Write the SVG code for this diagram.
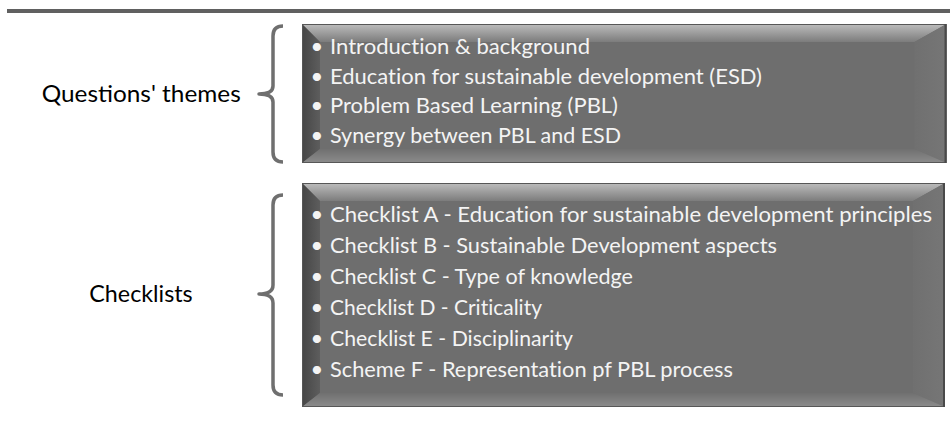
<svg xmlns="http://www.w3.org/2000/svg" width="950" height="422" viewBox="0 0 950 422">
  <defs>
    <linearGradient id="gTop" x1="0" y1="0" x2="0" y2="1">
      <stop offset="0" stop-color="#bdbdbd"/>
      <stop offset="1" stop-color="#7c7c7c"/>
    </linearGradient>
    <linearGradient id="gLeft" x1="0" y1="0" x2="1" y2="0">
      <stop offset="0" stop-color="#464646"/>
      <stop offset="1" stop-color="#5d5d5d"/>
    </linearGradient>
    <linearGradient id="gRight" x1="0" y1="0" x2="1" y2="0">
      <stop offset="0" stop-color="#707070"/>
      <stop offset="1" stop-color="#767676"/>
    </linearGradient>
    <linearGradient id="gBottom" x1="0" y1="0" x2="0" y2="1">
      <stop offset="0" stop-color="#707070"/>
      <stop offset="1" stop-color="#8c8c8c"/>
    </linearGradient>
  </defs>
  <style>
    .label { font-family: "Lato", "Open Sans", "Liberation Sans", sans-serif; font-size: 23.5px; fill: #000000; }
    .item { font-family: "Lato", "Open Sans", "Liberation Sans", sans-serif; font-size: 20.5px; fill: #f4f4f4; font-variant-ligatures: none; }
    .bul { font-size: 22px; }
    .face { fill: #6e6e6e; }
    .top { fill: url(#gTop); }
    .left { fill: url(#gLeft); }
    .right { fill: url(#gRight); }
    .bottom { fill: url(#gBottom); }
    .edge { fill: none; stroke: #575757; stroke-width: 1; }
    .brace { fill: none; stroke: #6f6f6f; stroke-width: 3.5; stroke-linecap: butt; stroke-linejoin: round; }
  </style>

  <rect id="top-rule" x="7" y="9" width="943" height="4" fill="#606060"/>

  <g id="label-themes">
    <text class="label" x="41.7" y="102" textLength="199" lengthAdjust="spacingAndGlyphs">Questions' themes</text>
  </g>

  <g id="label-checklists">
    <text class="label" x="89.3" y="302" textLength="103.4" lengthAdjust="spacingAndGlyphs">Checklists</text>
  </g>

  <g id="box-themes">
    <rect class="face" x="302" y="24" width="644.5" height="139"/>
    <polygon class="top" points="302,24 946.5,24 914.5,42 320,42"/>
    <polygon class="left" points="302,24 320,42 320,149 302,163"/>
    <polygon class="right" points="946.5,24 946.5,163 914.5,149 914.5,42"/>
    <polygon class="bottom" points="302,163 320,149 914.5,149 946.5,163"/>
    <rect class="edge" x="302.5" y="24.5" width="643.5" height="138"/>
    <line x1="945.5" y1="24" x2="945.5" y2="163" stroke="#4a4a4a" stroke-width="2"/>
    <text class="item" y="54"><tspan class="bul" x="310.5">•</tspan> <tspan x="330" textLength="260" lengthAdjust="spacingAndGlyphs">Introduction &amp; background</tspan></text>
    <text class="item" y="83.5"><tspan class="bul" x="310.5">•</tspan> <tspan x="330" textLength="432" lengthAdjust="spacingAndGlyphs">Education for sustainable development (ESD)</tspan></text>
    <text class="item" y="113"><tspan class="bul" x="310.5">•</tspan> <tspan x="330" textLength="288" lengthAdjust="spacingAndGlyphs">Problem Based Learning (PBL)</tspan></text>
    <text class="item" y="142.5"><tspan class="bul" x="310.5">•</tspan> <tspan x="330" textLength="291" lengthAdjust="spacingAndGlyphs">Synergy between PBL and ESD</tspan></text>
  </g>

  <g id="box-checklists">
    <rect class="face" x="302" y="183" width="643" height="224"/>
    <polygon class="top" points="302,183 945,183 913,201 320,201"/>
    <polygon class="left" points="302,183 320,201 320,393 302,407"/>
    <polygon class="right" points="945,183 945,407 913,393 913,201"/>
    <polygon class="bottom" points="302,407 320,393 913,393 945,407"/>
    <rect class="edge" x="302.5" y="183.5" width="642" height="223"/>
    <line x1="944" y1="183" x2="944" y2="407" stroke="#4a4a4a" stroke-width="2"/>
    <text class="item" y="222"><tspan class="bul" x="310.5">•</tspan> <tspan x="330" textLength="602" lengthAdjust="spacingAndGlyphs">Checklist A - Education for sustainable development principles</tspan></text>
    <text class="item" y="253"><tspan class="bul" x="310.5">•</tspan> <tspan x="330" textLength="447" lengthAdjust="spacingAndGlyphs">Checklist B - Sustainable Development aspects</tspan></text>
    <text class="item" y="284"><tspan class="bul" x="310.5">•</tspan> <tspan x="330" textLength="303" lengthAdjust="spacingAndGlyphs">Checklist C - Type of knowledge</tspan></text>
    <text class="item" y="315"><tspan class="bul" x="310.5">•</tspan> <tspan x="330" textLength="212" lengthAdjust="spacingAndGlyphs">Checklist D - Criticality</tspan></text>
    <text class="item" y="346"><tspan class="bul" x="310.5">•</tspan> <tspan x="330" textLength="243" lengthAdjust="spacingAndGlyphs">Checklist E - Disciplinarity</tspan></text>
    <text class="item" y="377"><tspan class="bul" x="310.5">•</tspan> <tspan x="330" textLength="403" lengthAdjust="spacingAndGlyphs">Scheme F - Representation pf PBL process</tspan></text>
  </g>

  <g id="connectors">
    <path class="brace" d="M283,26 Q273,26 273,36 L273,86 Q273,94 259,94 Q273,94 273,102 L273,152 Q273,162 283,162"/>
    <path class="brace" d="M283,195 Q273,195 273,205 L273,285 Q273,294 259,294 Q273,294 273,303 L273,385 Q273,395 283,395"/>
  </g>
</svg>
